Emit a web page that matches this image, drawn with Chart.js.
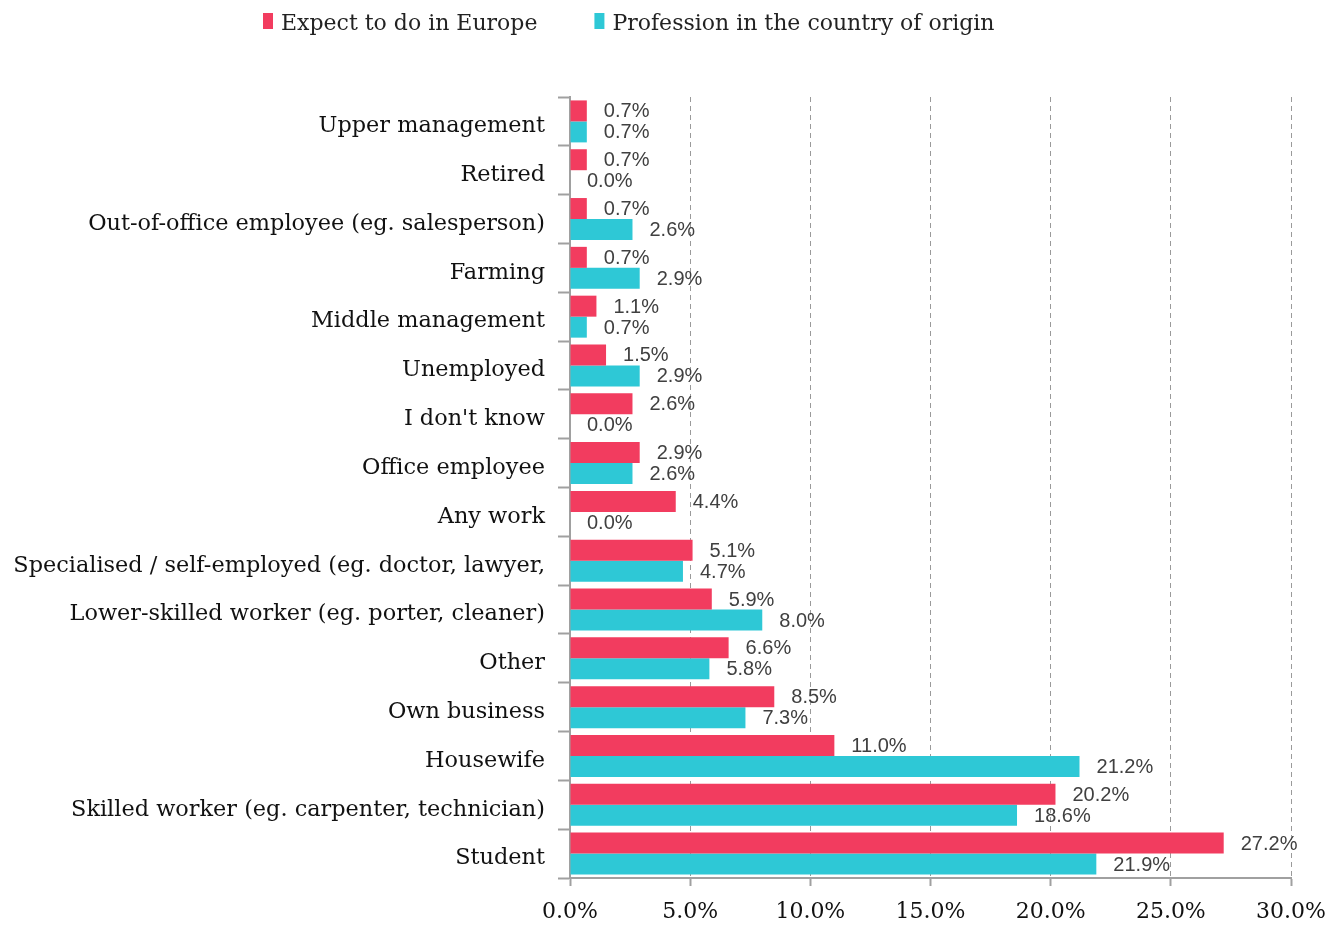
<!DOCTYPE html>
<html>
<head>
<meta charset="utf-8">
<title>Occupation: origin vs. expectation</title>
<script src="https://cdn.jsdelivr.net/npm/chart.js@4.4.1/dist/chart.umd.min.js"></script>
<style>
    html, body { margin: 0; padding: 0; background: #fff; }
    #wrap { width: 1344px; height: 926px; }
</style>
</head>
<body>
<div id="wrap"><canvas id="chart" width="1344" height="926"></canvas></div>
<script>
// Categories, top to bottom
var categories = [
    'Upper management',
    'Retired',
    'Out-of-office employee (eg. salesperson)',
    'Farming',
    'Middle management',
    'Unemployed',
    "I don't know",
    'Office employee',
    'Any work',
    'Specialised / self-employed (eg. doctor, lawyer,',
    'Lower-skilled worker (eg. porter, cleaner)',
    'Other',
    'Own business',
    'Housewife',
    'Skilled worker (eg. carpenter, technician)',
    'Student'
];

// Shares in percent
var expectEurope = [0.7, 0.7, 0.7, 0.7, 1.1, 1.5, 2.6, 2.9, 4.4, 5.1, 5.9, 6.6, 8.5, 11.0, 20.2, 27.2];
var originProfession = [0.7, 0.0, 2.6, 2.9, 0.7, 2.9, 0.0, 2.6, 0.0, 4.7, 8.0, 5.8, 7.3, 21.2, 18.6, 21.9];

var seriesNames = ['Expect to do in Europe', 'Profession in the country of origin'];
var seriesColors = ['#F23C5F', '#2EC8D6'];

var xTicks = [0, 5, 10, 15, 20, 25, 30];

var serifFont = 'DejaVu Serif';

// value labels to the right of each bar
var valueLabels = {
    id: 'valueLabels',
    afterDatasetsDraw: function(chart) {
        var ctx = chart.ctx;
        ctx.save();
        ctx.font = '20px "Liberation Sans", Arial, sans-serif';
        ctx.fillStyle = '#404040';
        ctx.textAlign = 'left';
        ctx.textBaseline = 'middle';
        chart.data.datasets.forEach(function(ds, i) {
            var meta = chart.getDatasetMeta(i);
            meta.data.forEach(function(bar, j) {
                ctx.fillText(ds.data[j].toFixed(1) + '%', bar.x + 17, bar.y + 1);
            });
        });
        ctx.restore();
    }
};

// small legend row above the plot
var topLegend = {
    id: 'topLegend',
    afterDraw: function(chart) {
        var ctx = chart.ctx;
        ctx.save();
        ctx.font = '22px "' + serifFont + '", serif';
        ctx.textBaseline = 'middle';
        ctx.textAlign = 'left';
        var x = 263;
        var y = 22;
        chart.data.datasets.forEach(function(ds) {
            ctx.fillStyle = ds.backgroundColor;
            ctx.fillRect(x, y - 9, 10, 16);
            ctx.fillStyle = '#222';
            ctx.fillText(ds.label, x + 18, y + 2);
            x += 18 + ctx.measureText(ds.label).width + 57;
        });
        ctx.restore();
    }
};

new Chart(document.getElementById('chart').getContext('2d'), {
    type: 'bar',
    data: {
        labels: categories,
        datasets: [{
            label: seriesNames[0],
            data: expectEurope,
            backgroundColor: seriesColors[0]
        }, {
            label: seriesNames[1],
            data: originProfession,
            backgroundColor: seriesColors[1]
        }]
    },
    options: {
        indexAxis: 'y',
        responsive: false,
        animation: false,
        devicePixelRatio: 1,
        categoryPercentage: 0.86,
        barPercentage: 1.0,
        layout: {
            padding: { top: 97, right: 53, bottom: 0, left: 0 }
        },
        plugins: {
            legend: { display: false },
            tooltip: { enabled: false }
        },
        scales: {
            x: {
                min: 0,
                max: 30,
                afterBuildTicks: function(scale) {
                    scale.ticks = xTicks.map(function(v) { return { value: v }; });
                },
                afterFit: function(scale) {
                    scale.height = 48;
                    scale.paddingLeft = 0;
                    scale.paddingRight = 0;
                },
                grid: {
                    color: '#9a9a9a',
                    lineWidth: 1,
                    drawTicks: true,
                    tickLength: 8,
                    tickColor: '#a0a0a0',
                    tickWidth: 2
                },
                border: {
                    display: true,
                    color: '#a0a0a0',
                    width: 2,
                    dash: [5, 4]
                },
                ticks: {
                    padding: 13,
                    color: '#111',
                    font: { family: serifFont, size: 22 },
                    callback: function(v) { return Number(v).toFixed(1) + '%'; }
                }
            },
            y: {
                afterFit: function(scale) {
                    scale.width = 570;
                },
                grid: {
                    drawOnChartArea: false,
                    drawTicks: true,
                    tickLength: 12,
                    tickColor: '#a0a0a0',
                    tickWidth: 2
                },
                border: {
                    display: true,
                    color: '#a0a0a0',
                    width: 2
                },
                ticks: {
                    padding: 13,
                    labelOffset: 5,
                    color: '#111',
                    autoSkip: false,
                    font: { family: serifFont, size: 22.4 }
                }
            }
        }
    },
    plugins: [valueLabels, topLegend]
});
</script>
</body>
</html>
